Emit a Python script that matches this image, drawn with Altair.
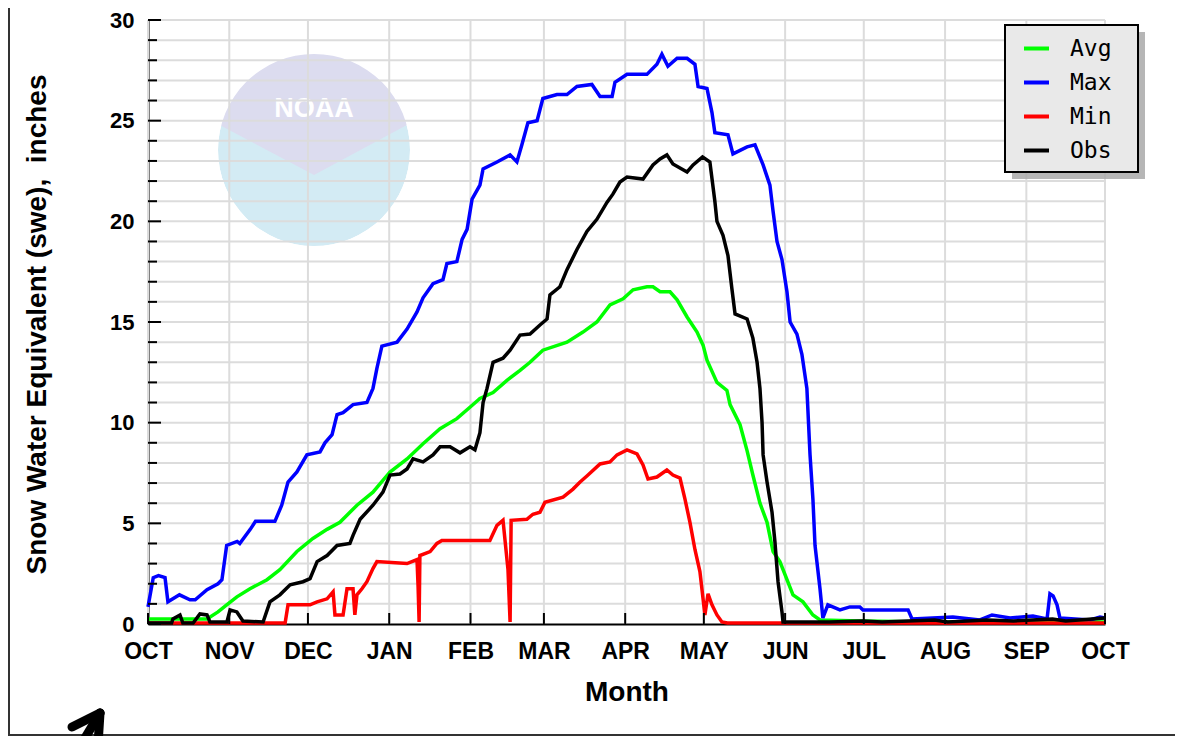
import altair as alt
import pandas as pd

# ---------------- data ----------------
month_days = [0, 31, 61, 92, 123, 151, 182, 212, 243, 273, 304, 335, 365]
month_labels = ["OCT", "NOV", "DEC", "JAN", "FEB", "MAR", "APR", "MAY", "JUN", "JUL", "AUG", "SEP", "OCT"]
y_major = [0, 5, 10, 15, 20, 25, 30]
y_minor = [1, 2, 3, 4, 6, 7, 8, 9, 11, 12, 13, 14, 16, 17, 18, 19, 21, 22, 23, 24, 26, 27, 28, 29]
y_grid = list(range(1, 31))

series_names = ["Avg", "Max", "Min", "Obs"]
series_colors = ["#00ff00", "#0000ff", "#ff0000", "#000000"]

# days since Oct 1 / snow water equivalent (inches)
avg_day = [0, 22.5, 26.7, 30.5, 33.9, 38.9, 45.4, 50.3, 56.8, 62.9, 68.3, 73.2, 79.7, 85.8, 92.3, 98.8,
           104.9, 111.4, 117.8, 124.0, 126.6, 131.6, 136.9, 141.9, 145.7, 150.6, 159.8, 165.9, 171.2,
           176.2, 181.2, 185.0, 190.3, 192.6, 195.3, 199.1, 201.8, 205.6, 209.4, 211.7, 213.2, 217.0,
           220.8, 222.0, 225.8, 228.5, 230.7, 233.4, 236.1, 238.4, 241.0, 246.0, 249.8, 253.6, 256.3,
           272, 300, 365]
avg_swe = [0.25, 0.25, 0.6, 1.0, 1.35, 1.75, 2.2, 2.7, 3.6, 4.25, 4.7, 5.05, 5.9, 6.55, 7.55, 8.2,
           8.95, 9.7, 10.2, 10.9, 11.2, 11.5, 12.1, 12.6, 13.0, 13.6, 14.0, 14.5, 15.0,
           15.85, 16.15, 16.6, 16.75, 16.75, 16.5, 16.5, 16.1, 15.25, 14.5, 13.85, 13.1, 12.0,
           11.6, 10.9, 9.9, 8.6, 7.4, 6.0, 5.05, 3.6, 3.1, 1.45, 1.1, 0.45, 0.2,
           0.15, 0.1, 0.1]

max_day = [0, 2, 4, 6.5, 7.6, 12, 16, 18, 22.5, 26.7, 28.2, 30, 34, 35, 39, 41, 48.4, 51, 53.4, 56.8,
           60.6, 65.6, 67.5, 70.2, 72.1, 74.4, 78.2, 83.5, 85.8, 87.3, 89.2, 95, 98.8, 102.6, 104.9,
           108.7, 112.5, 114, 117.8, 119.8, 121.7, 123.6, 126.6, 127.8, 133.1, 138.1, 140.7, 142.6,
           144.9, 148.4, 150.6, 156, 159.8, 163.6, 169.3, 172.4, 177, 178.1, 182.7, 190.3, 194.1, 196,
           198.3, 201.8, 205.6, 208.6, 209.8, 213.2, 215.1, 216.2, 221.2, 223.1, 228.5, 231.5, 234.6,
           237.2, 238.4, 239.9, 241.8, 243.7, 244.9, 247.5, 249.4, 251.3, 252.5, 253.6, 254.4, 256.3,
           257.4, 259.3, 263.9, 267.7, 271.5, 272.7, 289.9, 291.4, 307, 317.3, 321.9, 328.8, 337.5,
           342.9, 344, 345.2, 346.7, 347.8, 359.3, 363.1, 365]
max_swe = [0.85, 2.3, 2.4, 2.3, 1.1, 1.45, 1.2, 1.2, 1.7, 2.0, 2.2, 3.9, 4.1, 4.0, 4.7, 5.1, 5.1, 5.9, 7.05, 7.55,
           8.4, 8.55, 9.0, 9.4, 10.4, 10.5, 10.9, 11.0, 11.7, 12.7, 13.8, 14.0, 14.65, 15.5, 16.2,
           16.9, 17.1, 17.9, 18.0, 19.1, 19.6, 21.1, 21.8, 22.6, 22.95, 23.3, 22.95, 23.8,
           24.9, 25.0, 26.1, 26.3, 26.3, 26.7, 26.8, 26.2, 26.2, 26.9, 27.3, 27.3, 27.8, 28.3,
           27.7, 28.1, 28.1, 27.8, 26.7, 26.6, 25.4, 24.4, 24.3, 23.35, 23.7, 23.8, 22.8,
           21.8, 20.5, 19.0, 18.1, 16.5, 15.0, 14.4, 13.4, 11.7, 8.4, 6.2, 3.9, 1.75,
           0.3, 0.95, 0.7, 0.85, 0.85, 0.7, 0.7, 0.25, 0.35, 0.2, 0.45, 0.3, 0.4,
           0.25, 1.5, 1.4, 0.95, 0.3, 0.2, 0.35, 0.3]

min_day = [0, 52.3, 53.4, 61.8, 64.5, 68.3, 70.6, 71.3, 74.4, 75.9, 78.2, 78.9, 79.7, 81.6, 83.5, 85.8,
           87.3, 98.8, 102.6, 103.0, 103.4, 103.7, 107.6, 110.2, 112.1, 130.4, 133.1, 135.4, 137.3,
           138.1, 138.5, 144.5, 146.8, 149.5, 151.4, 158.3, 162.1, 164.8, 167.4, 172.4, 176.2, 178.9,
           182.7, 186.5, 188.8, 190.7, 194.1, 197.9, 200.2, 202.9, 204.8, 206.7, 208.6, 210.5, 211.7,
           212.4, 213.6, 215.1, 217.0, 218.9, 221, 365]
min_swe = [0.05, 0.05, 0.95, 0.95, 1.1, 1.25, 1.6, 0.45, 0.45, 1.75, 1.75, 0.45, 1.45, 1.75, 2.1, 2.75,
           3.1, 3.0, 3.2, 1.9, 0.1, 3.4, 3.6, 4.0, 4.15, 4.15, 4.9, 5.15, 2.7,
           0.1, 5.15, 5.2, 5.45, 5.55, 6.05, 6.3, 6.7, 7.05, 7.35, 7.95, 8.05, 8.4,
           8.65, 8.45, 7.9, 7.2, 7.3, 7.65, 7.4, 7.25, 6.2, 5.05, 3.7, 2.6, 1.25,
           0.45, 1.5, 0.95, 0.45, 0.1, 0.05, 0.05]

obs_day = [0, 9, 9.5, 12.2, 13.3, 17.2, 19.8, 22.5, 23.6, 30.1, 31.3, 33.9, 36.2, 43.9, 46.5, 50.3, 54.2,
           59.1, 61.8, 64.5, 68.3, 72.1, 77.0, 78.2, 80.9, 85.8, 89.6, 92.3, 96.1, 98.8, 101.1, 104.9,
           108.7, 111.4, 115.2, 119.0, 122.8, 124.7, 126.6, 127.8, 129.3, 131.6, 135.4, 138.1, 141.9,
           145.7, 149.5, 152.2, 153.3, 157.1, 159.8, 163.6, 167.4, 171.2, 175.1, 177.3, 180.0, 182.7,
           188.8, 192.6, 195.3, 197.9, 200.2, 205.6, 207.9, 211.5, 214.3, 216.2, 217.0, 219.3, 221.2,
           222.7, 223.9, 228.5, 230.7, 232.3, 233.4, 234.2, 234.6, 236.1, 238.0, 239.1, 240.3, 241.8,
           242.2, 260, 272.5, 280, 300, 305, 320, 330, 345, 350, 365]
obs_swe = [0.05, 0.05, 0.25, 0.45, 0.05, 0.05, 0.5, 0.45, 0.1, 0.1, 0.7, 0.6, 0.15, 0.1, 1.1, 1.45, 1.95,
           2.1, 2.25, 3.1, 3.4, 3.9, 4.0, 4.4, 5.2, 5.9, 6.55, 7.4, 7.45, 7.7, 8.2, 8.05,
           8.4, 8.8, 8.8, 8.5, 8.8, 8.65, 9.5, 11.0, 11.7, 13.0, 13.2, 13.6, 14.35,
           14.4, 14.85, 15.15, 16.35, 16.75, 17.6, 18.6, 19.5, 20.1, 20.95, 21.35, 21.95, 22.2,
           22.1, 22.8, 23.1, 23.3, 22.85, 22.45, 22.8, 23.2, 22.95, 21.0, 20.0, 19.3, 18.3,
           16.65, 15.4, 15.15, 14.2, 13.0, 11.7, 10.0, 8.4, 7.05, 5.55, 4.1, 2.1, 0.6,
           0.1, 0.1, 0.15, 0.1, 0.2, 0.1, 0.2, 0.15, 0.25, 0.15, 0.3]

# ---------------- tables ----------------
rows = []
for name, days, vals in [("Avg", avg_day, avg_swe), ("Max", max_day, max_swe),
                         ("Min", min_day, min_swe), ("Obs", obs_day, obs_swe)]:
    for d, v in zip(days, vals):
        rows.append({"series": name, "day": d, "swe": v})
df = pd.DataFrame(rows)

months_df = pd.DataFrame({"day": month_days, "label": month_labels})
grid_df = pd.DataFrame({"swe": y_grid})
major_df = pd.DataFrame({"swe": y_major})
minor_df = pd.DataFrame({"swe": y_minor})
one = alt.Data(values=[{"k": 1}])

W, H = 957, 604
xscale = alt.Scale(domain=[0, 365], nice=False, zero=False)
yscale = alt.Scale(domain=[0, 30], nice=False)

label_expr = "[" + ",".join("'%s'" % m for m in month_labels) + "][indexof([" + \
    ",".join(str(d) for d in month_days) + "], datum.value)]"

x_axis = alt.Axis(values=month_days, labelExpr=label_expr, title="Month",
                  ticks=False, grid=False, domainColor="black", domainWidth=2,
                  labelFont="Liberation Sans", labelFontWeight="bold", labelFontSize=23,
                  labelColor="black", labelPadding=16, labelFlush=False,
                  titleFont="Liberation Sans", titleFontWeight="bold", titleFontSize=28,
                  titleColor="black", titleY=76, titleBaseline="alphabetic")
y_axis = alt.Axis(values=y_major, title="Snow Water Equivalent (swe),\u00a0 inches",
                  ticks=False, grid=False, domainColor="black", domainWidth=2,
                  labelFont="Liberation Sans", labelFontWeight="bold", labelFontSize=22,
                  labelColor="black", labelPadding=14,
                  titleFont="Liberation Sans", titleFontWeight="bold", titleFontSize=28,
                  titleColor="black", titleAngle=270, titleX=-111, titleY=304,
                  titleAlign="center", titleBaseline="middle")

X = alt.X("day:Q", scale=xscale, axis=x_axis)
Y = alt.Y("swe:Q", scale=yscale, axis=y_axis)

# logo watermark (faint NOAA emblem)
logo_blue = alt.Chart(one).mark_arc(color="#d3ebf4", radius=96, theta=0, theta2=6.2832).encode(
    x=alt.value(166), y=alt.value(130))
logo_top = alt.Chart(one).mark_arc(color="#dcdcef", radius=125, theta=5.2, theta2=7.36).encode(
    x=alt.value(166), y=alt.value(155))
logo_mask = alt.Chart(one).mark_arc(color="white", radius=150, radius2=96, theta=0, theta2=6.2832).encode(
    x=alt.value(166), y=alt.value(130))
logo_text = alt.Chart(one).mark_text(text="NOAA", color="white", fontSize=27, fontWeight="bold",
                                      font="Liberation Sans", align="center", baseline="middle").encode(
    x=alt.value(166), y=alt.value(89))

# grid
hgrid = alt.Chart(grid_df).mark_rule(color="#dcdcdc", strokeWidth=2).encode(
    y=Y, x=alt.value(0), x2=alt.value(W))
vgrid = alt.Chart(months_df).mark_rule(color="#dcdcdc", strokeWidth=2).encode(
    x=X, y=alt.value(0), y2=alt.value(H))

# inward ticks
ymaj = alt.Chart(major_df).mark_rule(color="black", strokeWidth=2).encode(
    y=Y, x=alt.value(0), x2=alt.value(13))
ymin = alt.Chart(minor_df).mark_rule(color="black", strokeWidth=2).encode(
    y=Y, x=alt.value(0), x2=alt.value(9))
xt = alt.Chart(months_df).mark_rule(color="black", strokeWidth=2).encode(
    x=X, y=alt.value(H - 11), y2=alt.value(H))

# legend box with drop shadow
shadow = alt.Chart(one).mark_rect(color="#a9a9a9", opacity=0.85).encode(
    x=alt.value(864), x2=alt.value(997), y=alt.value(12), y2=alt.value(159))
box = alt.Chart(one).mark_rect(fill="#e9e9e9", stroke="black", strokeWidth=2).encode(
    x=alt.value(857), x2=alt.value(990), y=alt.value(5), y2=alt.value(152))

lines = alt.Chart(df).mark_line(strokeWidth=3.5).encode(
    x=X, y=Y,
    color=alt.Color("series:N", sort=series_names,
                    scale=alt.Scale(domain=series_names, range=series_colors),
                    legend=alt.Legend(orient="none", legendX=874, legendY=14, title=None,
                                      direction="vertical", symbolType="stroke", symbolSize=625,
                                      symbolStrokeWidth=4, labelFont="DejaVu Sans Mono",
                                      labelFontSize=23, labelColor="black", labelOffset=19,
                                      rowPadding=7, padding=0)))

# frame decorations
left_border = alt.Chart(one).mark_rule(color="#333333", strokeWidth=2).encode(
    x=alt.value(-139), y=alt.value(-12), y2=alt.value(H + 112))
bottom_border = alt.Chart(one).mark_rule(color="#333333", strokeWidth=2).encode(
    x=alt.value(-140), x2=alt.value(W + 70), y=alt.value(H + 111))
arrow_shaft = alt.Chart(one).mark_rule(color="black", strokeWidth=9, strokeCap="round").encode(
    x=alt.value(-48), y=alt.value(693), x2=alt.value(-72), y2=alt.value(733))
arrow_arm1 = alt.Chart(one).mark_rule(color="black", strokeWidth=9, strokeCap="round").encode(
    x=alt.value(-48), y=alt.value(693), x2=alt.value(-76), y2=alt.value(707))
arrow_arm2 = alt.Chart(one).mark_rule(color="black", strokeWidth=9, strokeCap="round").encode(
    x=alt.value(-48), y=alt.value(693), x2=alt.value(-50), y2=alt.value(725))

chart = alt.layer(
    logo_blue, logo_top, logo_mask, logo_text, hgrid, vgrid, lines, ymaj, ymin, xt,
    shadow, box, left_border, bottom_border, arrow_shaft, arrow_arm1, arrow_arm2
).properties(
    width=W, height=H,
    autosize=alt.AutoSizeParams(type="none"),
    padding={"left": 140, "top": 12, "right": 70, "bottom": 112},
).configure_view(stroke=None).configure(background="white")

chart.save("out.html", embed_options={"renderer": "svg", "actions": False})
